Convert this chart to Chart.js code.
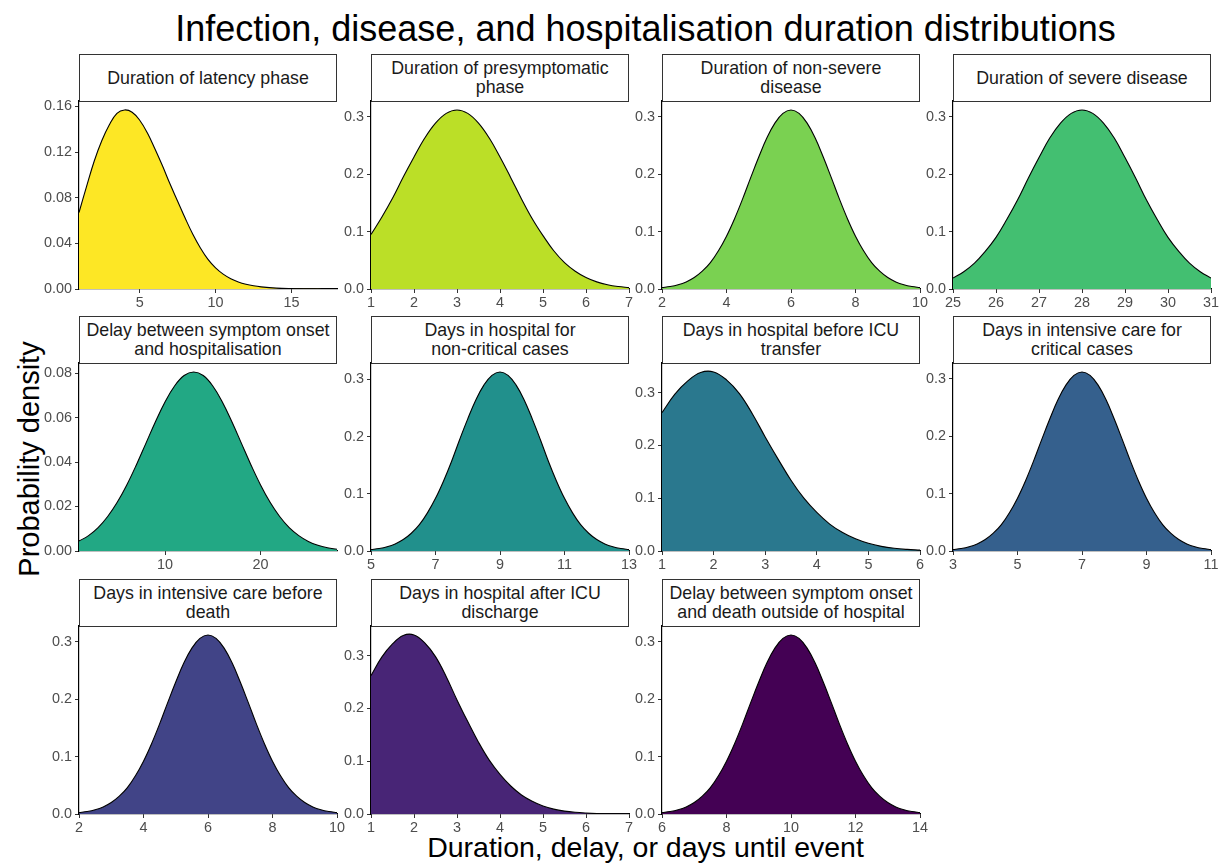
<!DOCTYPE html>
<html>
<head>
<meta charset="utf-8">
<script src="https://cdn.jsdelivr.net/npm/chart.js@4.4.0/dist/chart.umd.min.js"></script>
<style>
  html, body { margin:0; padding:0; background:#fff; }
  body { width:1221px; height:864px; position:relative; overflow:hidden;
         font-family:"Liberation Sans", Arial, Helvetica, sans-serif; }
  .strip { position:absolute; box-sizing:border-box; border:1px solid #333; background:#fff;
           color:#1a1a1a; font-size:17.8px; line-height:18.7px; display:flex;
           align-items:center; justify-content:center; text-align:center; }
  canvas { position:absolute; }
  #title { position:absolute; left:70px; width:1151px; top:11px; text-align:center;
           font-size:36px; line-height:36px; color:#000; white-space:nowrap; }
  #xtitle { position:absolute; left:70px; width:1151px; top:833px; text-align:center;
            font-size:28.5px; line-height:28.5px; color:#000; white-space:nowrap; }
  #ytitle { position:absolute; left:29px; top:459px; width:0; height:0; }
  #ytitle span { position:absolute; left:0; top:0; transform:translate(-50%,-50%) rotate(-90deg);
                 font-size:29px; line-height:29px; color:#000; white-space:nowrap; }
</style>
</head>
<body>
<div id="title">Infection, disease, and hospitalisation duration distributions</div>
<div id="xtitle">Duration, delay, or days until event</div>
<div id="ytitle"><span>Probability density</span></div>
<script>
// ---------- Panel titles ----------
const panelTitles = [
  "Duration of latency phase",
  "Duration of presymptomatic<br>phase",
  "Duration of non-severe<br>disease",
  "Duration of severe disease",
  "Delay between symptom onset<br>and hospitalisation",
  "Days in hospital for<br>non-critical cases",
  "Days in hospital before ICU<br>transfer",
  "Days in intensive care for<br>critical cases",
  "Days in intensive care before<br>death",
  "Days in hospital after ICU<br>discharge",
  "Delay between symptom onset<br>and death outside of hospital"
];

// ---------- Series ----------
const latencyDays = [1,1.5,2,2.5,3,3.5,4,4.5,5,5.5,6,6.5,7,7.5,8,8.5,9,9.5,10,10.5,11,11.5,12,12.5,13,14,15,16,17,18];
const latencyDensity = [0.067,0.090,0.112,0.130,0.144,0.154,0.157,0.155,0.148,0.137,0.123,0.108,0.092,0.077,0.062,0.048,0.036,0.026,0.0185,0.013,0.009,0.0062,0.0042,0.0028,0.0019,0.0008,0.00033,0.00013,0.00005,0.00002];

const presympDays = [1,1.25,1.5,1.75,2,2.25,2.5,2.75,3,3.25,3.5,3.75,4,4.25,4.5,4.75,5,5.25,5.5,5.75,6,6.25,6.5,6.75,7];
const presympDensity = [0.095,0.125,0.158,0.195,0.230,0.263,0.289,0.306,0.312,0.306,0.289,0.263,0.230,0.194,0.157,0.1225,0.093,0.0666,0.046,0.031,0.020,0.0124,0.0074,0.0043,0.0024];

const nonSevereDays = [2,2.25,2.5,2.75,3,3.25,3.5,3.75,4,4.25,4.5,4.75,5,5.25,5.5,5.75,6,6.25,6.5,6.75,7,7.25,7.5,7.75,8,8.25,8.5,8.75,9,9.25,9.5,9.75,10];
const nonSevereDensity = [0.0024,0.0043,0.0074,0.0124,0.020,0.031,0.046,0.0666,0.092,0.1225,0.157,0.194,0.230,0.263,0.289,0.306,0.312,0.306,0.289,0.263,0.230,0.194,0.157,0.1225,0.092,0.0666,0.046,0.031,0.020,0.0124,0.0074,0.0043,0.0024];

const severeDays = [25,25.25,25.5,25.75,26,26.25,26.5,26.75,27,27.25,27.5,27.75,28,28.25,28.5,28.75,29,29.25,29.5,29.75,30,30.25,30.5,30.75,31];
const severeDensity = [0.019,0.030,0.045,0.0655,0.090,0.121,0.155,0.193,0.229,0.263,0.289,0.306,0.312,0.306,0.289,0.263,0.229,0.193,0.155,0.121,0.090,0.0655,0.045,0.030,0.019];

const onsetHospDays = [1,2,3,4,5,6,7,8,9,10,11,12,13,14,15,16,17,18,19,20,21,22,23,24,25,26,27,28];
const onsetHospDensity = [0.0045,0.0069,0.0105,0.0155,0.0219,0.0297,0.0387,0.0484,0.0581,0.0670,0.0742,0.0789,0.0805,0.0789,0.0742,0.0670,0.0581,0.0484,0.0387,0.0297,0.0219,0.0155,0.0105,0.0069,0.0043,0.0026,0.0015,0.0008];

const nonCriticalDays = [5,5.25,5.5,5.75,6,6.25,6.5,6.75,7,7.25,7.5,7.75,8,8.25,8.5,8.75,9,9.25,9.5,9.75,10,10.25,10.5,10.75,11,11.25,11.5,11.75,12,12.25,12.5,12.75,13];
const nonCriticalDensity = [0.0024,0.0043,0.0074,0.0124,0.020,0.031,0.046,0.0666,0.092,0.1225,0.157,0.195,0.231,0.264,0.290,0.307,0.313,0.307,0.290,0.264,0.231,0.195,0.157,0.1225,0.092,0.0666,0.046,0.031,0.020,0.0124,0.0074,0.0043,0.0024];

const preIcuDays = [1,1.25,1.5,1.75,2,2.25,2.5,2.75,3,3.25,3.5,3.75,4,4.25,4.5,4.75,5,5.25,5.5,5.75,6];
const preIcuDensity = [0.262,0.297,0.322,0.338,0.339,0.324,0.298,0.260,0.216,0.174,0.134,0.100,0.073,0.051,0.035,0.023,0.0145,0.0088,0.0052,0.003,0.0016];

const icuCriticalDays = [3,3.25,3.5,3.75,4,4.25,4.5,4.75,5,5.25,5.5,5.75,6,6.25,6.5,6.75,7,7.25,7.5,7.75,8,8.25,8.5,8.75,9,9.25,9.5,9.75,10,10.25,10.5,10.75,11];
const icuCriticalDensity = [0.0024,0.0043,0.0074,0.0124,0.020,0.031,0.046,0.0666,0.092,0.1225,0.157,0.194,0.230,0.263,0.289,0.306,0.312,0.306,0.289,0.263,0.230,0.194,0.157,0.1225,0.092,0.0666,0.046,0.031,0.020,0.0124,0.0074,0.0043,0.0024];

const icuDeathDays = [2,2.25,2.5,2.75,3,3.25,3.5,3.75,4,4.25,4.5,4.75,5,5.25,5.5,5.75,6,6.25,6.5,6.75,7,7.25,7.5,7.75,8,8.25,8.5,8.75,9,9.25,9.5,9.75,10];
const icuDeathDensity = [0.0024,0.0043,0.0074,0.0124,0.020,0.031,0.046,0.0666,0.092,0.1225,0.157,0.194,0.230,0.263,0.289,0.306,0.312,0.306,0.289,0.263,0.230,0.194,0.157,0.1225,0.092,0.0666,0.046,0.031,0.020,0.0124,0.0074,0.0043,0.0024];

const postIcuDays = [1,1.25,1.5,1.75,2,2.25,2.5,2.75,3,3.25,3.5,3.75,4,4.25,4.5,4.75,5,5.25,5.5,5.75,6,6.25,6.5,6.75,7];
const postIcuDensity = [0.262,0.297,0.322,0.338,0.339,0.324,0.298,0.260,0.216,0.175,0.136,0.102,0.075,0.053,0.036,0.024,0.015,0.0092,0.0055,0.0032,0.0018,0.0009,0.0005,0.00025,0.0001];

const onsetDeathDays = [6,6.25,6.5,6.75,7,7.25,7.5,7.75,8,8.25,8.5,8.75,9,9.25,9.5,9.75,10,10.25,10.5,10.75,11,11.25,11.5,11.75,12,12.25,12.5,12.75,13,13.25,13.5,13.75,14];
const onsetDeathDensity = [0.0024,0.0043,0.0074,0.0124,0.020,0.031,0.046,0.0666,0.092,0.1225,0.157,0.194,0.230,0.263,0.289,0.306,0.312,0.306,0.289,0.263,0.230,0.194,0.157,0.1225,0.092,0.0666,0.046,0.031,0.020,0.0124,0.0074,0.0043,0.0024];

// ---------- Axis ranges and tick labels ----------
const xRanges = [[1,18],[1,7],[2,10],[25,31],[1,28],[5,13],[1,6],[3,11],[2,10],[1,7],[6,14]];
const xTickValues = [
  [5,10,15],[1,2,3,4,5,6,7],[2,4,6,8,10],[25,26,27,28,29,30,31],
  [10,20],[5,7,9,11,13],[1,2,3,4,5,6],[3,5,7,9,11],
  [2,4,6,8,10],[1,2,3,4,5,6,7],[6,8,10,12,14]
];
const yTickValues = [
  [0,0.04,0.08,0.12,0.16],[0,0.1,0.2,0.3],[0,0.1,0.2,0.3],[0,0.1,0.2,0.3],
  [0,0.02,0.04,0.06,0.08],[0,0.1,0.2,0.3],[0,0.1,0.2,0.3],[0,0.1,0.2,0.3],
  [0,0.1,0.2,0.3],[0,0.1,0.2,0.3],[0,0.1,0.2,0.3]
];
const yTickDecimals = [2,1,1,1,2,1,1,1,1,1,1];

const panelDays = [latencyDays, presympDays, nonSevereDays, severeDays, onsetHospDays,
  nonCriticalDays, preIcuDays, icuCriticalDays, icuDeathDays, postIcuDays, onsetDeathDays];
const panelDensity = [latencyDensity, presympDensity, nonSevereDensity, severeDensity, onsetHospDensity,
  nonCriticalDensity, preIcuDensity, icuCriticalDensity, icuDeathDensity, postIcuDensity, onsetDeathDensity];

// viridis(11), reversed
const fillColours = ["#FDE725","#BBDF27","#7AD151","#43BF71","#22A884","#21908C",
                     "#2A788E","#35608D","#414487","#482576","#440154"];

// ---------- Layout ----------
const FONT = '"Liberation Sans", Arial, Helvetica, sans-serif';
Chart.defaults.font.family = FONT;
const colLeft = [79, 371, 662, 953];
const rowPlotTop = [101, 363, 626];
const PLOT_W = 258, PLOT_H = 188, STRIP_H = 47;
const PAD_L = 52, PAD_T = 12, PAD_R = 18, PAD_B = 26;

for (let i = 0; i < panelTitles.length; i++) {
  const col = i % 4, row = Math.floor(i / 4);
  const left = colLeft[col], top = rowPlotTop[row];

  const strip = document.createElement('div');
  strip.className = 'strip';
  strip.style.left = left + 'px';
  strip.style.top = (top - STRIP_H) + 'px';
  strip.style.width = PLOT_W + 'px';
  strip.style.height = (STRIP_H + 1) + 'px';
  strip.innerHTML = '<span>' + panelTitles[i] + '</span>';
  document.body.appendChild(strip);

  const cv = document.createElement('canvas');
  const cw = PAD_L + PLOT_W + PAD_R, ch = PAD_T + PLOT_H + PAD_B;
  cv.width = cw; cv.height = ch;
  cv.style.width = cw + 'px'; cv.style.height = ch + 'px';
  cv.style.left = (left - PAD_L) + 'px';
  cv.style.top = (top - PAD_T) + 'px';
  document.body.appendChild(cv);

  const xs = panelDays[i], ys = panelDensity[i];
  const yMax = Math.max(...ys) * 1.05;
  const xt = xTickValues[i], yt = yTickValues[i], dec = yTickDecimals[i];

  new Chart(cv.getContext('2d'), {
    type: 'line',
    data: {
      datasets: [{
        data: xs.map((x, j) => ({ x: x, y: ys[j] })),
        fill: 'origin',
        backgroundColor: fillColours[i],
        borderColor: '#000',
        borderWidth: 1.1,
        pointRadius: 0,
        tension: 0.4,
        cubicInterpolationMode: 'default'
      }]
    },
    options: {
      responsive: false,
      animation: false,
      events: [],
      layout: { padding: { left: 0, top: PAD_T, right: PAD_R, bottom: 0 } },
      plugins: { legend: { display: false }, tooltip: { enabled: false } },
      scales: {
        x: {
          type: 'linear',
          min: xRanges[i][0], max: xRanges[i][1],
          afterBuildTicks: ax => { ax.ticks = xt.map(v => ({ value: v })); },
          afterFit: s => { s.height = PAD_B; },
          grid: { display: true, drawOnChartArea: false, drawTicks: true, tickLength: 4, color: '#333', lineWidth: 1 },
          border: { display: true, color: '#000', width: 1.2 },
          ticks: { color: '#4d4d4d', font: { size: 14.4 }, padding: 1, maxRotation: 0, autoSkip: false,
                   callback: v => String(v) }
        },
        y: {
          type: 'linear',
          min: 0, max: yMax,
          afterBuildTicks: ax => { ax.ticks = yt.map(v => ({ value: v })); },
          afterFit: s => { s.width = PAD_L; },
          grid: { display: true, drawOnChartArea: false, drawTicks: true, tickLength: 4, color: '#333', lineWidth: 1 },
          border: { display: true, color: '#000', width: 1.2 },
          ticks: { color: '#4d4d4d', font: { size: 14.4 }, padding: 3, autoSkip: false,
                   callback: v => Number(v).toFixed(dec) }
        }
      }
    }
  });
}
</script>
</body>
</html>
